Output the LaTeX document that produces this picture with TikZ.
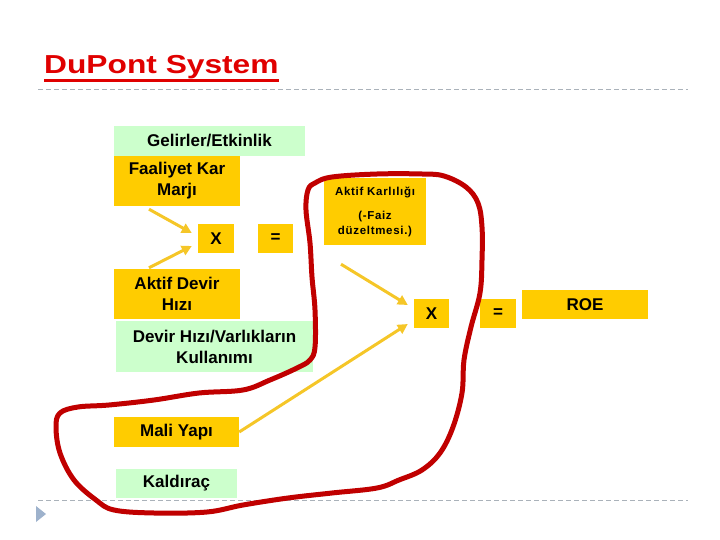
\documentclass[tikz,border=0pt]{standalone}
\usepackage{fontspec}
\setmainfont{Liberation Sans}
\newfontfamily\titlefont[FakeStretch=1.22]{Liberation Sans}
\newfontfamily\spacedfont[LetterSpace=6]{Liberation Sans}
\usetikzlibrary{arrows.meta}
\definecolor{boxorange}{RGB}{255,204,0}
\definecolor{boxgreen}{RGB}{204,255,204}
\definecolor{arrowyellow}{RGB}{245,198,40}
\definecolor{loopred}{RGB}{192,0,0}
\definecolor{titlered}{RGB}{224,0,0}
\definecolor{rulegray}{RGB}{170,178,186}
\definecolor{bulletblue}{RGB}{158,178,204}

\begin{document}
\begin{tikzpicture}[x=1pt,y=-1pt,
    obox/.style={fill=boxorange, inner sep=0pt, align=center,
      font=\fontsize{17}{21}\selectfont\bfseries},
    gbox/.style={obox, fill=boxgreen},
    arr/.style={draw=arrowyellow, line width=3pt, -{Triangle[length=10pt,width=10pt]}},
    freehand/.style={draw=loopred, line width=5pt, line join=round}
  ]
      \useasboundingbox (0,0) rectangle (720,540);

      \node[anchor=base west, inner sep=0pt, text=titlered,
        font=\titlefont\fontsize{26}{30}\selectfont\bfseries] (title) at (44,74) {DuPont System};
      \draw[titlered, line width=3pt] ([yshift=-7pt]title.base west) -- ([yshift=-7pt]title.base east);

      \draw[rulegray, line width=1pt, dash pattern=on 5pt off 3pt] (38,90) -- (688,90);
      \draw[rulegray, line width=1pt, dash pattern=on 5pt off 3pt] (38,500) -- (688,500);
      \fill[bulletblue] (36,506) -- (46,514) -- (36,522) -- cycle;

      \node[gbox, minimum width=191pt, minimum height=30pt] (gel) at (209.5,141) {Gelirler/Etkinlik};
      \node[obox, minimum width=126pt, minimum height=50pt] (fkm) at (177,181) {Faaliyet Kar\\Marjı};
      \node[obox, minimum width=36pt, minimum height=29pt] (x1) at (216,238.5) {X};
      \node[obox, minimum width=35pt, minimum height=29pt] (eq1) at (275.5,238.5) {=};
      \node[obox, minimum width=126pt, minimum height=50pt] (adh) at (177,294) {Aktif Devir\\Hızı};
      \node[gbox, minimum width=197pt, minimum height=51pt] (dhv) at (214.5,346.5) {Devir Hızı/Varlıkların\\Kullanımı};
      \node[obox, minimum width=102pt, minimum height=67pt,
        font=\spacedfont\fontsize{11.5}{15}\selectfont\bfseries] (akr) at (375,211.5)
        {Aktif Karlılığı\\[9pt](-Faiz\\düzeltmesi.)};
      \node[obox, minimum width=35pt, minimum height=29pt] (x2) at (431.5,313.5) {X};
      \node[obox, minimum width=36pt, minimum height=29pt] (eq2) at (498,313.5) {=};
      \node[obox, minimum width=126pt, minimum height=29pt] (roe) at (585,304.5) {ROE};
      \node[obox, minimum width=125pt, minimum height=30pt] (mali) at (176.5,432) {Mali Yapı};
      \node[gbox, minimum width=121pt, minimum height=29pt] (kal) at (176.5,483.5) {Kaldıraç};

      \draw[arr] ([xshift=-28pt, yshift=-3pt]fkm.south) -- ([xshift=-6pt, yshift=5.5pt]x1.west);
      \draw[arr] ([xshift=-28pt, yshift=1pt]adh.north) -- ([xshift=-6pt, yshift=-7.5pt]x1.west);
      \draw[arr] ([xshift=-34pt, yshift=-19pt]akr.south) -- ([xshift=-6pt, yshift=8.5pt]x2.west);
      \draw[arr] (mali.east) -- ([xshift=-6pt, yshift=-10.5pt]x2.west);

      \draw[freehand] plot[smooth cycle, tension=0.6] coordinates {
        (315,183) (332,177) (377,174) (422,174) (444,176) (466,187) (478,203)
        (482,227) (482,260) (480,293) (471,327) (464,360) (462,393) (453,427)
        (440,453) (422,470) (399,480) (377,488) (332,493) (288,498) (243,505)
        (207,512) (154,513) (114,510) (96,500) (74,480) (60,453) (56,427)
        (60,413) (78,407) (109,405) (154,400) (199,393) (243,390) (270,380)
        (297,368) (310,360) (315,347) (315,310) (312,277) (310,243) (306,210)
        (308,190)};
\end{tikzpicture}
\end{document}
